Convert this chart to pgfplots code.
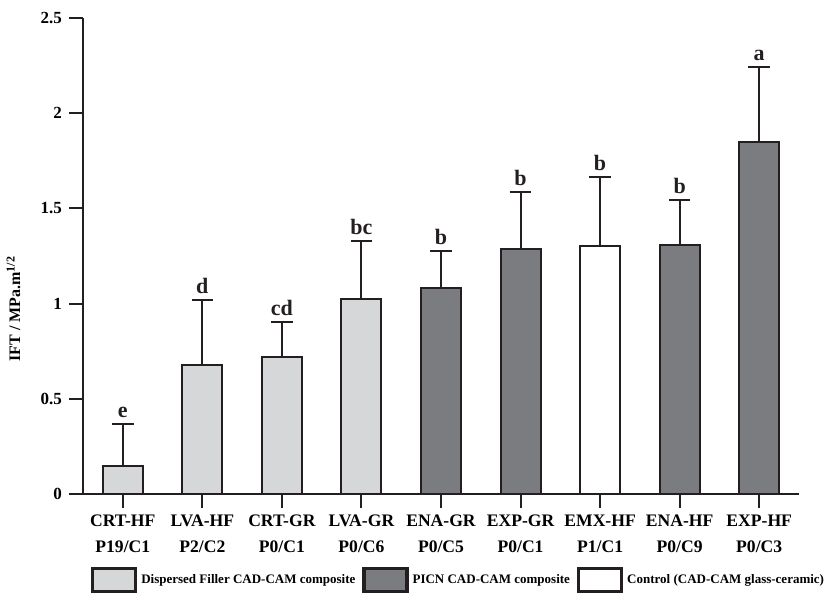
\documentclass[border=0pt]{standalone}
\usepackage{pgfplots}
\pgfplotsset{compat=1.18}
\usepackage{fontspec}
\setmainfont{Liberation Serif}
\definecolor{lightbar}{RGB}{214,215,217}
\definecolor{darkbar}{RGB}{123,124,128}
\definecolor{edge}{RGB}{35,31,32}
\begin{document}
\begin{tikzpicture}
\begin{axis}[
  at={(41.5pt,49.5pt)}, anchor=south west,
  scale only axis, width=358pt, height=238pt,
  xmin=-0.5, xmax=8.5, ymin=0, ymax=2.5,
  axis x line*=bottom, axis y line*=left,
  axis line style={line width=1pt, edge},
  tick align=outside, major tick length=7pt,
  tick style={line width=1pt, edge},
  xtick={0,...,8},
  xticklabels={{CRT-HF\\P19/C1},{LVA-HF\\P2/C2},{CRT-GR\\P0/C1},{LVA-GR\\P0/C6},{ENA-GR\\P0/C5},{EXP-GR\\P0/C1},{EMX-HF\\P1/C1},{ENA-HF\\P0/C9},{EXP-HF\\P0/C3}},
  xticklabel style={align=center, font=\bfseries\fontsize{8.8}{13}\selectfont},
  ytick={0,0.5,1,1.5,2,2.5},
  yticklabel style={font=\bfseries\fontsize{8.5}{10}\selectfont},
  /pgf/number format/assume math mode=true,
  ylabel={IFT / MPa.m\textsuperscript{1/2}},
  ylabel style={at={(axis description cs:-0.097,0.389)}, anchor=center, font=\bfseries\fontsize{8}{9}\selectfont},
  bar width=20pt,
  clip=false,
  legend columns=3,
  legend style={at={(axis description cs:0.526,-0.181)}, anchor=center, draw=none, fill=none,
    font=\bfseries\fontsize{6.5}{7}\selectfont,
    /tikz/every even column/.append style={column sep=1.5pt}},
  errstyle/.style={error bars/y dir=plus, error bars/y explicit,
    error bars/error mark=-,
    error bars/error bar style={line width=1pt, edge},
    error bars/error mark options={line width=1pt, edge, mark size=5.4pt, rotate=90}},
]
\addplot[ybar, bar shift=0pt, fill=lightbar, draw=edge, line width=1pt, errstyle,
  legend image code/.code={\draw[fill=lightbar, draw=edge, line width=1.6pt] (0pt,-5.8pt) rectangle (21.5pt,5.8pt);}]
  coordinates {(0,0.147) +- (0,0.219) (1,0.677) +- (0,0.340) (2,0.718) +- (0,0.184) (3,1.023) +- (0,0.306)};
\addlegendentry{Dispersed Filler CAD-CAM composite}
\addplot[ybar, bar shift=0pt, fill=darkbar, draw=edge, line width=1pt, errstyle,
  legend image code/.code={\draw[fill=darkbar, draw=edge, line width=1.6pt] (0pt,-5.8pt) rectangle (21.5pt,5.8pt);}]
  coordinates {(4,1.082) +- (0,0.194) (5,1.287) +- (0,0.298) (7,1.306) +- (0,0.236) (8,1.849) +- (0,0.394)};
\addlegendentry{PICN CAD-CAM composite}
\addplot[ybar, bar shift=0pt, fill=white, draw=edge, line width=1pt, errstyle,
  legend image code/.code={\draw[fill=white, draw=edge, line width=1.6pt] (0pt,-5.8pt) rectangle (21.5pt,5.8pt);}]
  coordinates {(6,1.304) +- (0,0.361)};
\addlegendentry{Control (CAD-CAM glass-ceramic)}
\addplot[draw=none, mark=none, forget plot, nodes near coords, point meta=explicit symbolic,
  nodes near coords style={anchor=south, inner sep=0pt, yshift=3pt, font=\bfseries\fontsize{11}{12}\selectfont, text=edge}]
  coordinates {(0,0.366)[e] (1,1.017)[d] (2,0.902)[cd] (3,1.329)[bc] (4,1.276)[b] (5,1.585)[b] (6,1.665)[b] (7,1.542)[b] (8,2.243)[a]};
\end{axis}
\pgfresetboundingbox
\path[use as bounding box] (0,0) rectangle (415.5pt,296.5pt);
\end{tikzpicture}
\end{document}
